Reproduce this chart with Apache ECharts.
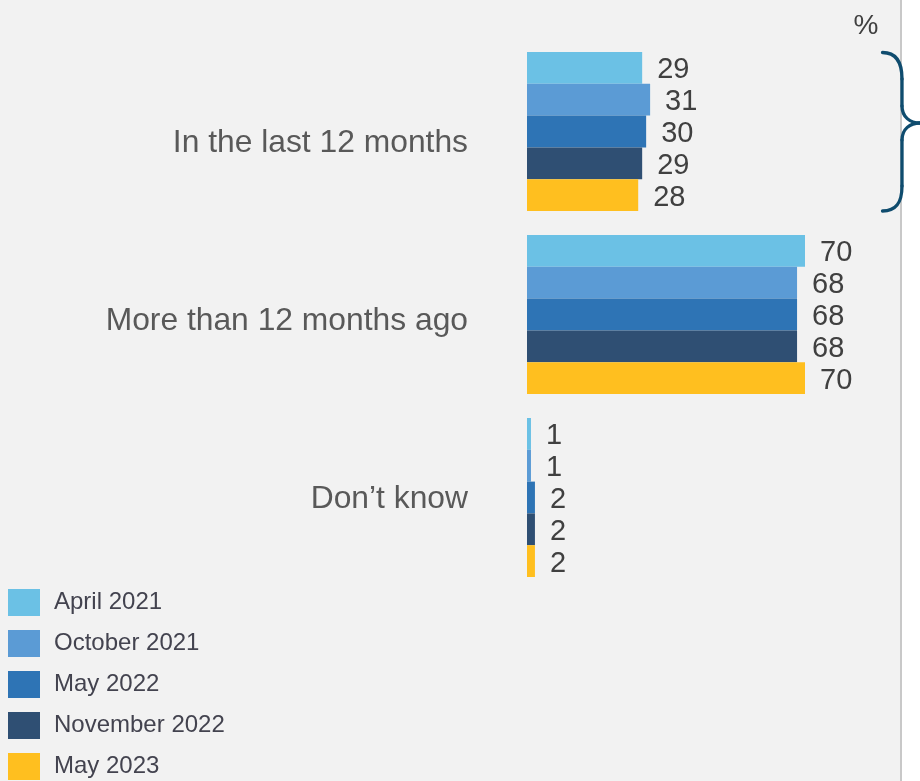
<!DOCTYPE html>
<html>
<head>
<meta charset="utf-8">
<script src="https://cdn.jsdelivr.net/npm/echarts@6/dist/echarts.min.js"></script>
<style>
  html, body { margin: 0; padding: 0; background: #ffffff; }
  #chart { width: 920px; height: 781px;
    background: linear-gradient(to right, #f2f2f2 0px, #f2f2f2 900px, #c8c8c8 900px, #c8c8c8 902px, #ffffff 902px); }
</style>
</head>
<body>
<div id="chart"></div>
<script>
const categories = ['In the last 12 months', 'More than 12 months ago', 'Don\u2019t know'];
const seriesNames = ['April 2021', 'October 2021', 'May 2022', 'November 2022', 'May 2023'];
const april2021 = [29, 70, 1];
const october2021 = [31, 68, 1];
const may2022 = [30, 68, 2];
const november2022 = [29, 68, 2];
const may2023 = [28, 70, 2];
const seriesValues = [april2021, october2021, may2022, november2022, may2023];
const unitLabel = '%';

const colors = ['#6bc1e5', '#5b9bd5', '#2e74b5', '#2f4f73', '#ffbf1f'];
const labelShift = [23, 14, 4]; // vertical nudges of category labels (px of padding)

const chart = echarts.init(document.getElementById('chart'), null, { renderer: 'canvas' });
const fontFam = 'Arial, "Liberation Sans", sans-serif';

const rich = {};
labelShift.forEach((s, i) => {
  rich['c' + i] = {
    fontSize: 31.8, color: '#595959', fontFamily: fontFam,
    padding: s >= 0 ? [s, 0, 0, 0] : [0, 0, -s, 0]
  };
});

const braceStyle = { fill: 'none', stroke: '#0f4c6e', lineWidth: 3.3, lineCap: 'round' };
function bez(x1, y1, c1x, c1y, c2x, c2y, x2, y2) {
  return { type: 'bezierCurve', z: 100,
    shape: { x1: x1, y1: y1, cpx1: c1x, cpy1: c1y, cpx2: c2x, cpy2: c2y, x2: x2, y2: y2 },
    style: braceStyle };
}
function seg(x1, y1, x2, y2) {
  return { type: 'line', z: 100, shape: { x1: x1, y1: y1, x2: x2, y2: y2 }, style: braceStyle };
}

const option = {
  backgroundColor: 'transparent',
  animation: false,
  grid: { left: 527, top: 40, width: 389.2, height: 549, containLabel: false },
  xAxis: {
    type: 'value', min: 0, max: 98, show: false
  },
  yAxis: {
    type: 'category', data: categories, inverse: true,
    axisLine: { show: false }, axisTick: { show: false }, splitLine: { show: false },
    axisLabel: {
      margin: 59,
      formatter: (v, i) => '{c' + i + '|' + v + '}',
      rich: rich
    }
  },
  legend: {
    orient: 'vertical', left: 8, top: 589, padding: 0,
    itemWidth: 32, itemHeight: 27, itemGap: 14, icon: 'rect',
    data: seriesNames,
    textStyle: { fontSize: 24, color: '#43434f', fontFamily: fontFam, padding: [0, 0, 0, 9] }
  },
  series: seriesNames.map((name, k) => ({
    name: name,
    type: 'bar',
    data: seriesValues[k],
    barWidth: 31.8,
    barGap: '0%',
    itemStyle: { color: colors[k] },
    label: {
      show: true, position: 'right', distance: 15, offset: [0, 2.5],
      fontSize: 29, color: '#404040', fontFamily: fontFam
    }
  })),
  graphic: [
    {
      type: 'text', x: 866, y: 26,
      style: { text: unitLabel, fontSize: 28, fill: '#404040', fontFamily: fontFam,
               textAlign: 'center', textVerticalAlign: 'middle' }
    },
    bez(882.5, 52.5, 896, 52.5, 902, 62, 902, 79),
    seg(902, 79, 902, 106),
    bez(902, 106, 902, 117, 910, 123, 920, 123),
    bez(920, 123, 910, 123, 902, 129, 902, 140),
    seg(902, 140, 902, 186),
    bez(902, 186, 902, 203, 896, 211, 882.5, 211)
  ]
};
chart.setOption(option);
</script>
</body>
</html>
